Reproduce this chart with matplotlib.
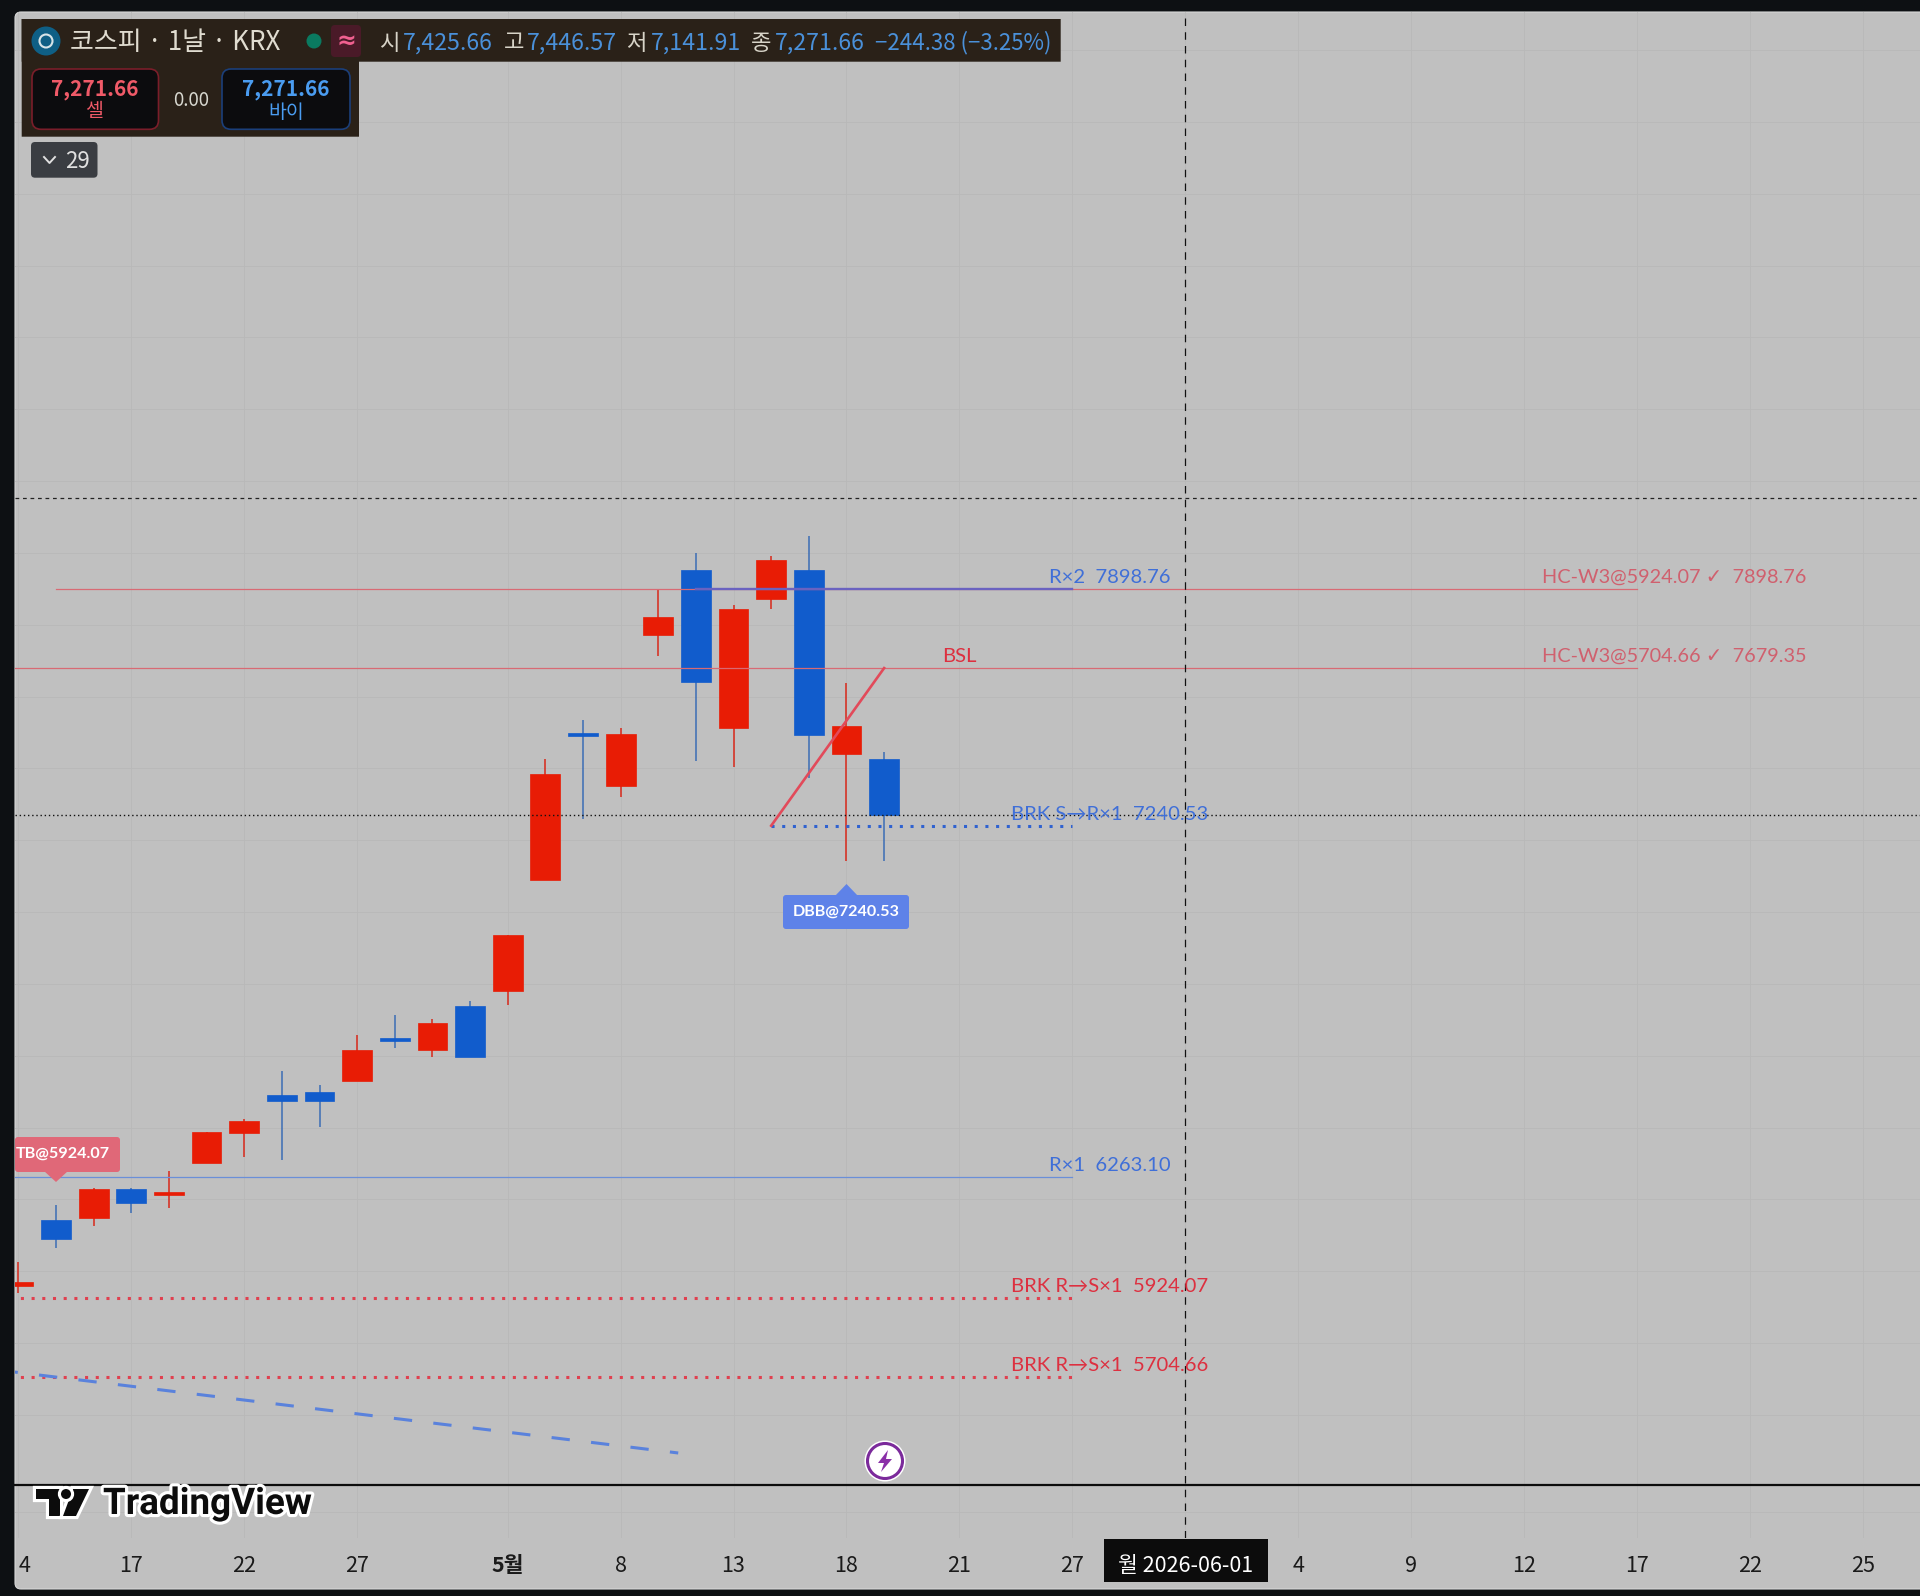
import matplotlib
matplotlib.use("Agg")
import matplotlib.pyplot as plt
import matplotlib.patheffects as pe
from matplotlib.lines import Line2D
from matplotlib.patches import Rectangle, FancyBboxPatch, Polygon, Circle
from matplotlib.transforms import Affine2D

# ---------- data ----------
bar_index = list(range(24))
opens  = [5958.9,6141.8,6148.2,6228.9,6212.2,6302.2,6385.7,6490.7,6498.2,6529.7,6648.6,6616.8,
          6738.5,6780.3,7089.3,7498.7,7351.9,7771.5,7952.5,7512.6,7871.7,7952.5,7441.0,7425.66]
highs  = [6025.7,6183.6,6232.5,6230.9,6279.1,6387.6,6423.9,6558.3,6518.5,6657.7,6713.4,6703.1,
          6752.4,6937.0,7426.2,7534.8,7512.6,7898.8,8000.7,7855.9,7991.5,8047.2,7637.9,7446.57]
lows   = [5940.2,6065.5,6126.8,6162.1,6176.9,6302.2,6318.9,6309.7,6402.4,6529.7,6621.5,6596.5,
          6596.5,6742.1,7089.3,7258.3,7319.6,7713.9,7421.5,7403.1,7843.9,7373.3,7143.1,7141.91]
closes = [5969.2,6090.6,6228.9,6189.9,6221.4,6387.6,6418.3,6474.0,6474.0,6615.1,6640.2,6692.0,
          6596.5,6937.0,7384.7,7490.3,7496.7,7822.5,7639.8,7843.1,7980.3,7492.2,7518.1,7271.66]

tick_pos    = [0,3,6,9,13,16,19,22,25,28,31,34,37,40,43,46,49]
tick_labels = ["4","17","22","27","5월","8","13","18","21","27","월 2026-06-01","4","9","12","17","22","25"]
price_grid  = [5329,5600,5800,6000,6200,6400,6600,6800,7000,7200,7400,7600,7800,8000,8200,8400,8600,8800,9000,9200,9400]

R2, BSL_LV, BRK_SR, R1, BRK_RS1, BRK_RS2 = 7898.76, 7679.35, 7240.53, 6263.10, 5924.07, 5704.66
LAST = 7271.66
CROSS_X, CROSS_Y = 31, 8153
trend_x, trend_y = [-0.5, 17.53], [5724.4, 5493.9]
bsl_x, bsl_y = [20, 23], [BRK_SR, BSL_LV]

# ---------- style ----------
UP, DOWN = "#e81c05", "#115ccc"
UPW, DOWNW = "#d8281a", "#3b6db5"
BG, FRAME, GRID = "#c0c0c0", "#0d1013", "#b8b8b8"
LBLUE, LRED, LPINK = "#3f6fd8", "#dd3040", "#d0606e"
LAT = ["Lato", "DejaVu Sans"]
CJK = ["Noto Sans CJK KR", "DejaVu Sans"]

W, H = 1920, 1596
fig = plt.figure(figsize=(W/100, H/100), dpi=100, facecolor=FRAME)
px = Affine2D().scale(1, -1).translate(0, H)

L, R, T, B = 15, W, 12, 1538
SP = 37.64
ax = fig.add_axes([L/W, 1-B/H, (R-L)/W, (B-T)/H], zorder=0)
ax.patch.set_visible(False)
for s in ax.spines.values():
    s.set_visible(False)
ax.set_xlim((L-18.4)/SP, (R-18.4)/SP)
ax.set_ylim(5257.2, 9506.2)

fig.add_artist(FancyBboxPatch((L, T), W, 1577, boxstyle="round,pad=0,rounding_size=6",
                              fc=BG, ec="#d8d8d8", lw=0.8, transform=px, zorder=-2))
# date tag behind tick label
fig.add_artist(Rectangle((1104, 1539), 164, 43, fc="#0c0c0c", ec="none", transform=px, zorder=-1))

ax.set_xticks(tick_pos)
ax.set_xticklabels(tick_labels, family=CJK, fontsize=15.5, color="#1a1a1a")
ax.set_yticks(price_grid)
ax.set_yticklabels([])
ax.tick_params(length=0)
ax.tick_params(axis="x", pad=12)
ax.grid(True, color=GRID, lw=0.6)
ax.set_axisbelow(True)
for k, (t, s) in enumerate(zip(ax.get_xticklabels(), tick_labels)):
    if k == 0:
        t.set_horizontalalignment("left")
    if s == "5월":
        t.set_fontweight("bold")
    if s.startswith("월"):
        t.set_color("white")
        t.set_fontweight("medium")

# ---------- candles ----------
for i, o, h, l, c in zip(bar_index, opens, highs, lows, closes):
    up = c >= o
    ax.vlines(i, l, h, color=UPW if up else DOWNW, lw=1.1, zorder=2)
    ax.bar(i, abs(c-o), bottom=min(o, c), width=0.79, color=UP if up else DOWN,
           edgecolor=UP if up else DOWN, lw=0.5, zorder=3)

# ---------- levels ----------
ax.plot([1, 43], [R2, R2], color="#d86a74", lw=0.9, zorder=4)
ax.plot([-1, 43], [BSL_LV, BSL_LV], color="#d86a74", lw=0.9, zorder=4)
ax.plot([18, 28], [R2, R2], color="#6a62c0", lw=1.7, zorder=5)
ax.plot([-1, 28], [R1, R1], color="#6a8fd8", lw=0.9, zorder=4)
dot = (0, (1, 2.5))
ax.plot([20, 28], [BRK_SR, BRK_SR], color="#2f62d0", lw=2.2, ls=dot, zorder=5)
ax.plot([-1, 28], [BRK_RS1, BRK_RS1], color="#e0404f", lw=2.2, ls=dot, zorder=4)
ax.plot([-1, 28], [BRK_RS2, BRK_RS2], color="#e0404f", lw=2.2, ls=dot, zorder=4)
ax.plot(bsl_x, bsl_y, color="#e24a5a", lw=1.9, zorder=5)
ax.plot(trend_x, trend_y, color="#5a82dc", lw=2.2, ls=(0, (6, 7)), zorder=4)
ax.axhline(LAST, color="#111111", lw=1.0, ls=(0, (1, 2)), zorder=4)
ax.axhline(CROSS_Y, color="#222222", lw=0.9, ls=(0, (3, 3)), zorder=6)
ax.axvline(CROSS_X, color="#111111", lw=0.9, ls=(0, (6, 5)), zorder=6)

def lab(x, y, s, col, dy=8.4, fs=14.6):
    ax.annotate(s, (x, y), xytext=(0, dy), textcoords="offset points", ha="center", va="center",
                color=col, fontsize=fs, family=LAT, zorder=7)

lab(29, R2, "R×2  7898.76", LBLUE)
lab(29, BRK_SR, "BRK S→R×1  7240.53", LBLUE)
lab(29, R1, "R×1  6263.10", LBLUE)
lab(29, BRK_RS1, "BRK R→S×1  5924.07", LRED)
lab(29, BRK_RS2, "BRK R→S×1  5704.66", LRED)
lab(25, BSL_LV, "BSL", LRED)
lab(44, R2, "HC-W3@5924.07 ✓  7898.76", LPINK, fs=14.3)
lab(44, BSL_LV, "HC-W3@5704.66 ✓  7679.35", LPINK, fs=14.3)

# ---------- overlay helpers ----------
def box(x0, y0, x1, y1, fc, ec="none", r=0, lw=1.2, z=5):
    fig.add_artist(FancyBboxPatch((x0, y0), x1-x0, y1-y0, boxstyle=f"round,pad=0,rounding_size={max(r,0.01)}",
                                  fc=fc, ec=ec, lw=lw, transform=px, zorder=z))

def txt(x, y, s, col, fs, ha="left", weight="normal", fam=CJK, z=6, **kw):
    return fig.text(x, y, s, color=col, fontsize=fs, ha=ha, va="center", fontweight=weight,
                    family=fam, transform=px, zorder=z, **kw)

# signal labels
box(783, 895, 909, 929, "#5e82e8", r=3)
fig.add_artist(Polygon([(835, 896), (846.5, 884), (858, 896)], fc="#5e82e8", ec="none", transform=px, zorder=5))
txt(846, 912, "DBB@7240.53", "white", 11.6, ha="center", fam=LAT, weight="bold")
box(15, 1137, 120, 1172, "#e06878", r=3)
fig.add_artist(Polygon([(44, 1171), (56, 1182), (68, 1171)], fc="#e06878", ec="none", transform=px, zorder=5))
txt(16, 1154, "TB@5924.07", "white", 11.6, fam=LAT, weight="bold")

# header
box(21.7, 19, 1060.7, 61.7, "#2a2118")
box(21.7, 19, 359, 136.7, "#2a2118")
fig.add_artist(Circle((46, 41), 14.5, fc="#0f5f85", ec="none", transform=px, zorder=6))
fig.add_artist(Circle((46, 41), 6.5, fc="none", ec="#d8e4e8", lw=1.5, transform=px, zorder=7))
txt(70, 43, "코스피 · 1날 · KRX", "#e0dcd0", 18.7)
fig.add_artist(Circle((314, 41), 7.5, fc="#0a7a60", ec="none", transform=px, zorder=6))
box(331, 25, 361, 57, "#4a1a28", r=4, z=6)
txt(346, 41, "≈", "#f06090", 17, ha="center", weight="bold", fam=["DejaVu Sans"], z=7)
for x, s in [(380, "시"), (504, "고"), (626, "저"), (751, "종")]:
    txt(x, 43, s, "#d8d4c8", 16)
for x, s in [(403, "7,425.66"), (527, "7,446.57"), (651, "7,141.91"), (775, "7,271.66")]:
    txt(x, 43, s, "#4a90d9", 16.7)
txt(875, 43, "−244.38 (−3.25%)", "#4a90d9", 16)

box(32, 69, 158.5, 129.3, "#0c0c0e", ec="#7a1e2a", r=9)
txt(95, 89.5, "7,271.66", "#f05a68", 15, ha="center", weight="bold")
txt(95, 112, "셀", "#f05a68", 14, ha="center")
txt(191, 100, "0.00", "#d8d8d0", 13.5, ha="center")
box(222, 69, 350, 129.3, "#0c0c0e", ec="#1b3f7a", r=9)
txt(286, 89.5, "7,271.66", "#4a9cf0", 15, ha="center", weight="bold")
txt(286, 112, "바이", "#4a9cf0", 14, ha="center")

box(31, 142, 97.5, 177.7, "#3a3d42", r=4)
fig.add_artist(Line2D([44, 49.5, 55], [157, 163, 157], color="#e0e0e0", lw=1.4, transform=px, zorder=6))
txt(77.5, 161, "29", "#e0e0e0", 16, ha="center")

# separator
fig.add_artist(Line2D([L, W], [1484.5, 1484.5], color="#0c0c0c", lw=1.6, transform=px, zorder=1))

# lightning
fig.add_artist(Circle((885, 1461), 20.5, fc="white", ec="none", transform=px, zorder=6))
fig.add_artist(Circle((885, 1461), 17.5, fc="white", ec="#7b2a9b", lw=2.2, transform=px, zorder=6))
fig.add_artist(Polygon([(888, 1450), (878, 1463), (884, 1463), (881, 1472), (892, 1459), (886, 1459)],
                       fc="#8a2fa8", ec="none", transform=px, zorder=7))

# TradingView logo
stroke = [pe.withStroke(linewidth=4.5, foreground="white")]
for pts in ([(36, 1489), (60, 1489), (60, 1516), (49, 1516), (49, 1499), (36, 1499)],
            [(73, 1489), (89, 1489), (76, 1516), (63, 1516)]):
    fig.add_artist(Polygon(pts, fc="#0c0c0c", ec="none", transform=px, zorder=6, path_effects=stroke))
fig.add_artist(Circle((66, 1494), 5, fc="#0c0c0c", ec="none", transform=px, zorder=6, path_effects=stroke))
txt(103, 1504, "TradingView", "#0c0c0c", 26.5, weight="bold", fam=["Roboto", "DejaVu Sans"], path_effects=stroke)

fig.savefig("out.png", dpi=100, facecolor=FRAME)
